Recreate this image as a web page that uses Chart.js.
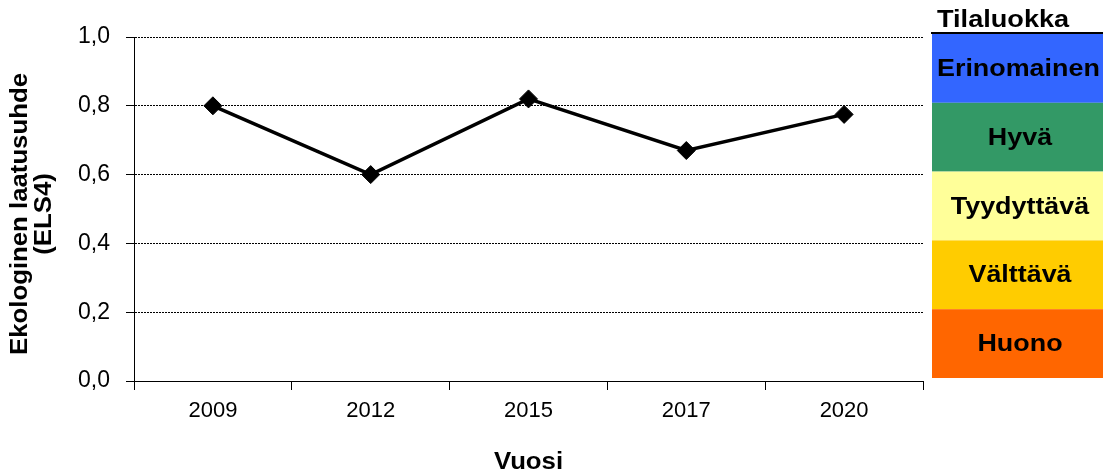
<!DOCTYPE html>
<html>
<head>
<meta charset="utf-8">
<script src="https://cdn.jsdelivr.net/npm/chart.js@4.4.1/dist/chart.umd.min.js"></script>
<style>
  html, body { margin: 0; padding: 0; background: #fff; overflow: hidden; }
  #wrap { width: 1103px; height: 474px; position: relative; }
</style>
</head>
<body>
<div id="wrap"><canvas id="c" width="1103" height="474"></canvas></div>
<script>
// Sampling years and the ecological quality ratio (ELS4)
const years = ['2009', '2012', '2015', '2017', '2020'];
const els4 = [0.80, 0.60, 0.82, 0.67, 0.775];

// Y axis tick values
const yTicks = [0, 0.2, 0.4, 0.6, 0.8, 1.0];

// Status classes shown as coloured bands on the right
const classNames = ['Erinomainen', 'Hyvä', 'Tyydyttävä', 'Välttävä', 'Huono'];
const classUpper = [1.0, 0.8, 0.6, 0.4, 0.2];
const classLower = [0.8, 0.6, 0.4, 0.2, 0.0];
const classColors = ['#3366FF', '#339966', '#FFFF99', '#FFCC00', '#FF6600'];

const legendTitle = 'Tilaluokka';
const xTitle = 'Vuosi';
const yTitle = ['Ekologinen laatusuhde', '(ELS4)'];

const FONT = '"Liberation Sans", Arial, sans-serif';

// Text drawn slightly widened along its reading direction
function wideText(ctx, text, x, y, sx, align, baseline, rot) {
  ctx.save();
  ctx.translate(x, y);
  if (rot) ctx.rotate(rot);
  ctx.scale(sx, 1);
  ctx.textAlign = align;
  ctx.textBaseline = baseline;
  ctx.fillText(text, 0, 0);
  ctx.restore();
}

const decorations = {
  id: 'decorations',
  afterDraw(chart) {
    const ctx = chart.ctx;
    const y = chart.scales.y;
    const area = chart.chartArea;
    const bandLeft = area.right + 9;
    const bandRight = chart.width;
    const off = 3;

    ctx.save();
    // coloured class bands
    classNames.forEach((name, i) => {
      const top = y.getPixelForValue(classUpper[i]) - off;
      const bottom = y.getPixelForValue(classLower[i]) - off;
      ctx.fillStyle = classColors[i];
      ctx.fillRect(bandLeft, top, bandRight - bandLeft, bottom - top);
    });
    // rule under the band title
    const firstTop = y.getPixelForValue(classUpper[0]) - off;
    ctx.fillStyle = '#000';
    ctx.fillRect(bandLeft - 1, firstTop - 2, bandRight - bandLeft + 1, 2);

    ctx.fillStyle = '#000';
    ctx.font = 'bold 24px ' + FONT;
    wideText(ctx, legendTitle, bandLeft + 5, firstTop - 7, 1.13, 'left', 'alphabetic');
    classNames.forEach((name, i) => {
      const top = y.getPixelForValue(classUpper[i]) - off;
      const bottom = y.getPixelForValue(classLower[i]) - off;
      const cx = i === 0 ? bandLeft + 5 : 1020;
      wideText(ctx, name, cx, (top + bottom) / 2 + 1, 1.12, i === 0 ? 'left' : 'center', 'middle');
    });

    // axis titles
    ctx.font = 'bold 23px ' + FONT;
    wideText(ctx, xTitle, (area.left + area.right) / 2, 463, 1.12, 'center', 'middle');
    wideText(ctx, yTitle[0], 21, 214, 1.12, 'center', 'middle', -Math.PI / 2);
    wideText(ctx, yTitle[1], 45, 214, 1.12, 'center', 'middle', -Math.PI / 2);
    ctx.restore();
  }
};

new Chart(document.getElementById('c'), {
  type: 'line',
  data: {
    labels: years,
    datasets: [{
      data: els4,
      borderColor: '#000',
      borderWidth: 3.5,
      pointStyle: 'rectRot',
      pointRadius: 9,
      pointBackgroundColor: '#000',
      pointBorderColor: '#000',
      pointBorderWidth: 1,
      tension: 0,
      clip: false
    }]
  },
  options: {
    responsive: false,
    devicePixelRatio: 1,
    animation: false,
    layout: { padding: { left: 0, right: 180, top: 37, bottom: 0 } },
    plugins: { legend: { display: false }, tooltip: { enabled: false } },
    scales: {
      x: {
        type: 'category',
        offset: true,
        afterFit(s) { s.height = 93; s.paddingLeft = 0; s.paddingRight = 0; },
        grid: { offset: true, drawOnChartArea: false, drawTicks: true, tickLength: 9, color: '#000', lineWidth: 1 },
        border: { display: true, color: '#000', width: 1 },
        ticks: { color: '#000', font: { family: FONT, size: 22 }, padding: 8, maxRotation: 0 }
      },
      y: {
        min: 0,
        max: 1,
        afterBuildTicks(s) { s.ticks = yTicks.map(v => ({ value: v })); },
        afterFit(s) { s.width = 134; s.paddingTop = 0; s.paddingBottom = 0; },
        grid: { color: '#000', lineWidth: 1, tickLength: 8, tickColor: '#000', tickBorderDash: [] },
        border: { display: true, color: '#000', width: 1, dash: [2, 1] },
        ticks: {
          color: '#000',
          font: { family: FONT, size: 23 },
          padding: 16,
          callback: v => Number(v).toFixed(1).replace('.', ',')
        }
      }
    }
  },
  plugins: [decorations]
});
</script>
</body>
</html>
